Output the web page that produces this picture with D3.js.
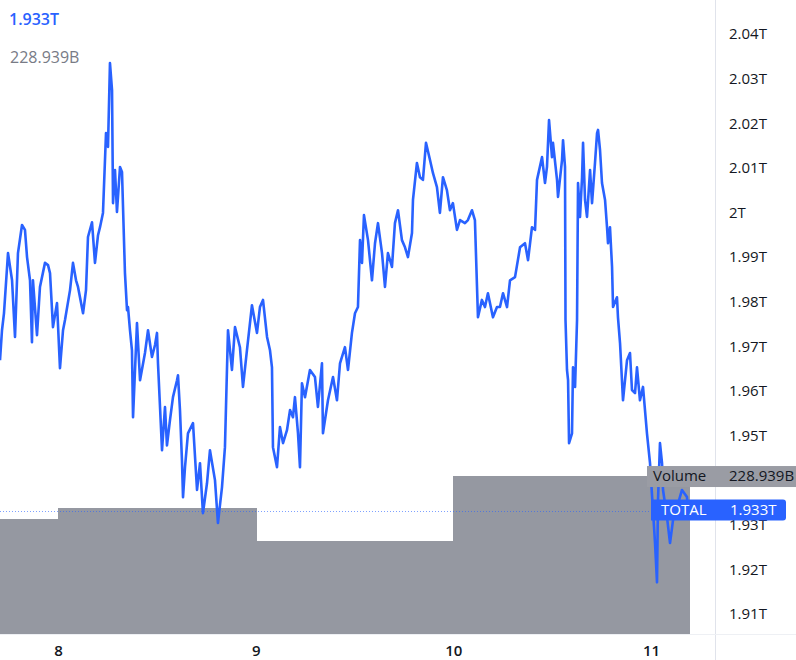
<!DOCTYPE html>
<html><head><meta charset="utf-8">
<script src="https://cdn.jsdelivr.net/npm/d3@7"></script>
<style>html,body{margin:0;padding:0;background:#fff;} svg{display:block;font-family:"Open Sans",sans-serif;}</style>
</head><body><svg id="chart" width="796" height="660"></svg>
<script>
// hours offset from 2021-11-08 00:00 UTC
const hours = [
-7.04,-6.80,-6.56,-6.07,-5.58,-5.22,-4.86,-4.37,-4.01,-3.76,
-3.40,-3.16,-3.04,-2.55,-2.19,-1.58,-1.21,-0.97,-0.61,-0.12,
0.24,0.61,0.85,1.46,1.82,2.19,2.43,3.04,3.40,3.64,
4.13,4.49,4.86,5.10,5.46,5.83,6.07,6.31,6.56,6.68,
6.92,7.16,7.53,7.77,8.13,8.38,8.50,8.74,8.98,9.11,
9.59,9.96,10.56,10.93,11.41,11.78,12.02,12.14,12.63,12.99,
13.23,13.60,13.96,14.45,14.57,14.81,15.05,15.18,15.42,15.78,
16.39,16.88,17.24,17.60,18.09,18.45,19.06,19.42,19.91,20.27,
20.64,21.12,21.49,22.09,22.46,22.94,23.55,24.16,24.52,24.89,
25.38,25.74,25.98,26.10,26.59,26.95,27.32,27.80,28.17,28.53,
28.77,29.14,29.38,29.62,29.99,30.59,31.20,31.56,32.05,32.17,
32.78,33.39,33.87,34.24,34.84,35.21,35.69,36.06,36.42,36.67,
36.91,37.15,37.64,38.12,38.49,38.85,39.34,39.70,40.06,40.55,
40.91,41.28,41.76,42.13,42.49,42.98,43.10,43.58,43.95,44.31,
44.68,45.16,45.53,46.01,46.37,46.74,47.22,47.59,47.95,48.44,
48.81,49.41,49.77,50.26,50.62,50.99,51.47,51.84,52.20,52.81,
53.30,53.66,54.03,54.52,54.88,55.49,56.10,56.70,57.07,57.55,
57.92,58.16,58.77,59.13,59.37,59.62,59.98,60.10,60.59,60.71,
61.20,61.32,61.56,61.62,61.80,61.93,62.05,62.41,62.53,62.78,
63.02,63.14,63.38,63.63,63.75,63.99,64.23,64.60,64.84,65.20,
65.45,65.57,65.81,66.05,66.42,66.66,66.78,67.02,67.27,67.39,
67.87,67.99,68.24,68.60,69.09,69.45,69.69,70.06,70.30,70.66,
71.03,71.51,71.88,72.24,72.49,72.73,72.85,73.09,73.34,73.46,
73.94,74.31,74.67,75.16,75.76,76.37,76.49
];
// total crypto market cap, trillions USD
const totalCap = [
1.9669,1.9736,1.9774,1.9909,1.9848,1.9721,1.9909,1.9972,1.9961,1.9900,
1.9848,1.9709,1.9848,1.9725,1.9833,1.9887,1.9882,1.9864,1.9743,1.9797,
1.9651,1.9736,1.9759,1.9826,1.9887,1.9848,1.9833,1.9774,1.9826,1.9945,
1.9978,1.9887,1.9949,1.9967,1.9999,2.0178,2.0147,2.0335,2.0274,2.0021,
2.0095,2.0001,2.0102,2.0091,1.9864,1.9781,1.9788,1.9736,1.9691,1.9541,
1.9752,1.9624,1.9685,1.9736,1.9676,1.9703,1.9730,1.9662,1.9467,1.9564,
1.9478,1.9535,1.9586,1.9624,1.9635,1.9557,1.9445,1.9362,1.9429,1.9505,
1.9528,1.9378,1.9438,1.9326,1.9393,1.9467,1.9400,1.9304,1.9384,1.9474,
1.9736,1.9647,1.9743,1.9698,1.9609,1.9691,1.9792,1.9730,1.9788,1.9804,
1.9721,1.9691,1.9653,1.9474,1.9429,1.9519,1.9483,1.9512,1.9557,1.9541,
1.9586,1.9505,1.9429,1.9617,1.9586,1.9647,1.9631,1.9564,1.9662,1.9505,
1.9579,1.9631,1.9579,1.9662,1.9698,1.9647,1.9730,1.9774,1.9788,1.9938,
1.9887,1.9994,1.9938,1.9848,1.9931,1.9976,1.9909,1.9833,1.9909,1.9878,
1.9976,2.0005,1.9938,1.9922,1.9900,1.9954,2.0028,2.0111,2.0079,2.0073,
2.0156,2.0118,2.0088,2.0057,1.9999,2.0079,2.0050,2.0005,2.0021,1.9961,
1.9983,1.9976,1.9983,2.0005,1.9983,1.9765,1.9804,1.9788,1.9819,1.9765,
1.9788,1.9788,1.9819,1.9788,1.9848,1.9855,1.9922,1.9931,1.9893,1.9967,
1.9961,2.0073,2.0124,2.0066,2.0102,2.0207,2.0124,2.0156,2.0073,2.0035,
2.0118,2.0162,2.0102,1.9759,1.9647,1.9624,1.9483,1.9505,1.9653,1.9609,
1.9759,2.0066,1.9990,2.0079,2.0156,2.0028,1.9990,2.0095,2.0021,2.0111,
2.0178,2.0185,2.0140,2.0066,2.0028,1.9967,1.9931,1.9967,1.9878,1.9788,
1.9810,1.9765,1.9707,1.9579,1.9669,1.9685,1.9602,1.9595,1.9653,1.9579,
1.9609,1.9505,1.9438,1.9333,1.9259,1.9171,1.9355,1.9483,1.9438,1.9378,
1.9317,1.9259,1.9310,1.9339,1.9378,1.9362,1.9330
];
const volumeDays = ["2021-11-07","2021-11-08","2021-11-09","2021-11-10","2021-11-11"];
const volumeValues = [166.6, 182.6, 134.8, 229.2, 228.939]; // billions
// 1.94T is hidden behind the Volume label in the reference, so it is not listed
const priceTicks = [1.91,1.92,1.93,1.95,1.96,1.97,1.98,1.99,2.00,2.01,2.02,2.03,2.04];
const dayTicks = ["2021-11-08","2021-11-09","2021-11-10","2021-11-11"];
const lastTotalLabel = "1.933T";
const lastVolumeLabel = "228.939B";
const seriesName = "TOTAL";
const volumeName = "Volume";

const BLUE = "#2962ff", GREY = "#9598a1";
const plotRight = 690, axisX = 715, bottomY = 634;
const svg = d3.select("#chart");
const base = Date.UTC(2021,10,8);
const data = hours.map((h,i)=>({t:new Date(base + h*3600e3), v:totalCap[i]}));

const x = d3.scaleUtc().domain([new Date(Date.UTC(2021,10,8)), new Date(Date.UTC(2021,10,11))]).range([58, 651]);
const y = d3.scaleLinear().domain([1.91, 2.04]).range([614, 34]);
const yVol = d3.scaleLinear().domain([0, 300]).range([bottomY, bottomY-207]);

svg.append("defs").append("clipPath").attr("id","plot")
  .append("rect").attr("x",0).attr("y",0).attr("width",plotRight).attr("height",bottomY);

// volume bars
const vols = volumeDays.map((d,i)=>{const s=new Date(d+"T00:00:00Z"); return {s, e:new Date(s.getTime()+864e5), v:volumeValues[i]};});
svg.append("g").attr("clip-path","url(#plot)").attr("shape-rendering","crispEdges")
  .selectAll("rect").data(vols).join("rect")
  .attr("x", d=>Math.round(Math.max(0,x(d.s))))
  .attr("width", d=>Math.round(Math.min(plotRight,x(d.e)))-Math.round(Math.max(0,x(d.s)))+1)
  .attr("y", d=>Math.round(yVol(d.v))).attr("height", d=>bottomY-Math.round(yVol(d.v)))
  .attr("fill", GREY);

// last price dotted line
const lastVal = totalCap[totalCap.length-1];
svg.append("line").attr("x1",0).attr("x2",plotRight).attr("y1",Math.round(y(lastVal))+0.5).attr("y2",Math.round(y(lastVal))+0.5)
  .attr("stroke",BLUE).attr("stroke-opacity",0.6).attr("stroke-width",1).attr("stroke-dasharray","1,2");

// line
svg.append("path").datum(data).attr("clip-path","url(#plot)")
  .attr("fill","none").attr("stroke",BLUE).attr("stroke-width",2.6).attr("stroke-linejoin","round")
  .attr("d", d3.line().x(d=>x(d.t)).y(d=>y(d.v)));

// separators
svg.append("line").attr("x1",axisX+0.5).attr("x2",axisX+0.5).attr("y1",0).attr("y2",660).attr("stroke","#e0e3eb");
svg.append("line").attr("x1",0).attr("x2",796).attr("y1",bottomY+0.5).attr("y2",bottomY+0.5).attr("stroke","#eef0f4");

// y axis
const ya = svg.append("g").attr("transform",`translate(${axisX},0)`)
  .call(d3.axisRight(y).tickValues(priceTicks).tickSize(0).tickPadding(14).tickFormat(d=>(+d.toFixed(2))+"T"));
ya.select(".domain").remove();
ya.selectAll("text").attr("font-size",15).attr("fill","#131722").attr("font-family","'Open Sans',sans-serif");

// x axis
const xa = svg.append("g").attr("transform",`translate(0,${bottomY})`)
  .call(d3.axisBottom(x).tickValues(dayTicks.map(d=>new Date(d+"T00:00:00Z"))).tickSize(0).tickPadding(11).tickFormat(d3.utcFormat("%-d")));
xa.select(".domain").remove();
xa.selectAll("text").attr("font-size",15).attr("font-weight",600).attr("fill","#131722").attr("font-family","'Open Sans',sans-serif");

// legend top-left
svg.append("text").attr("x",9).attr("y",25).attr("font-size",16).attr("font-weight",600).attr("fill",BLUE).text(lastTotalLabel);
svg.append("text").attr("x",10).attr("y",63).attr("font-size",16).attr("fill","#787b86").text(lastVolumeLabel);

// volume label
const vy = yVol(volumeValues[volumeValues.length-1]);
svg.append("rect").attr("x",647).attr("y",vy-10).attr("width",149).attr("height",21).attr("fill","#9a9ca4");
svg.append("text").attr("x",653).attr("y",vy).attr("dy","0.35em").attr("font-size",15).attr("fill","#131722").text(volumeName);
svg.append("text").attr("x",729).attr("y",vy).attr("dy","0.35em").attr("font-size",15).attr("fill","#131722").text(lastVolumeLabel);

// total label
const ty = y(lastVal) - 2;
svg.append("path").attr("fill",BLUE)
  .attr("d",`M651,${ty-10}H783a3,3 0 0 1 3,3V${ty+8}a3,3 0 0 1 -3,3H651Z`);
svg.append("text").attr("x",661).attr("y",ty).attr("dy","0.35em").attr("font-size",15).attr("fill","#fff").text(seriesName);
svg.append("text").attr("x",730).attr("y",ty).attr("dy","0.35em").attr("font-size",15).attr("fill","#fff").text(lastTotalLabel);
</script></body></html>
